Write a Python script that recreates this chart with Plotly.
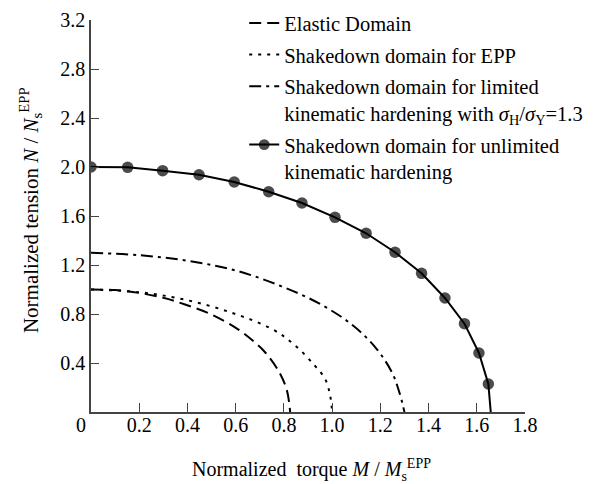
import plotly.graph_objects as go

# Elastic domain (dashed)
elastic_M = [0, 0.1, 0.2, 0.3, 0.39, 0.5, 0.61, 0.68, 0.722, 0.777, 0.812, 0.826]
elastic_N = [1.0, 0.995, 0.972, 0.932, 0.878, 0.796, 0.675, 0.567, 0.488, 0.338, 0.18, 0.0]

# Shakedown EPP (dotted)
epp_M = [0, 0.2, 0.39, 0.584, 0.75, 0.84, 0.922, 0.971, 0.992, 1.0]
epp_N = [1.0, 0.978, 0.917, 0.81, 0.678, 0.555, 0.392, 0.27, 0.133, 0.0]

# Shakedown limited kinematic hardening (dash-dot)
lim_M = [0, 0.2, 0.4, 0.6, 0.784, 0.95, 1.088, 1.185, 1.248, 1.279, 1.30]
lim_N = [1.3, 1.28, 1.235, 1.155, 1.031, 0.882, 0.704, 0.514, 0.324, 0.16, 0.0]

# Shakedown unlimited kinematic hardening (solid with markers)
unl_M = [0, 0.152, 0.297, 0.448, 0.594, 0.737, 0.875, 1.012, 1.141, 1.261, 1.371, 1.468, 1.549, 1.609, 1.648, 1.658]
unl_N = [2.0, 1.997, 1.97, 1.937, 1.878, 1.798, 1.706, 1.589, 1.459, 1.304, 1.132, 0.931, 0.721, 0.482, 0.229, 0.0]
unl_marker = [11.5] * 15 + [0]

x_ticks = [0, 0.2, 0.4, 0.6, 0.8, 1.0, 1.2, 1.4, 1.6, 1.8]
x_ticktext = ["0\u2003", "0.2", "0.4", "0.6", "0.8", "1.0", "1.2", "1.4", "1.6", "1.8"]
y_ticks = [0.4, 0.8, 1.2, 1.6, 2.0, 2.4, 2.8, 3.2]
y_ticktext = ["0.4", "0.8", "1.2", "1.6", "2.0", "2.4", "2.8", "3.2"]

x_title = "Normalized  torque <i>M</i> / <i>M</i><sub>s</sub><sup>EPP</sup>"
y_title = "Normalized tension <i>N</i> / <i>N</i><sub>s</sub><sup>EPP</sup>"

FONT = "Liberation Serif, Times New Roman, serif"

fig = go.Figure()
fig.add_trace(go.Scatter(x=elastic_M, y=elastic_N, mode="lines", name="Elastic Domain", legendgroup="a",
                         line=dict(color="black", width=2, dash="12px,6px"), line_shape="spline"))
fig.add_trace(go.Scatter(x=epp_M, y=epp_N, mode="lines", name="Shakedown domain for EPP", legendgroup="b",
                         line=dict(color="black", width=2, dash="3px,6px"), line_shape="spline"))
fig.add_trace(go.Scatter(x=lim_M, y=lim_N, mode="lines", legendgroup="c",
                         name="Shakedown domain for limited<br>kinematic hardening with <i>σ</i><sub>H</sub>/<i>σ</i><sub>Y</sub>=1.3",
                         line=dict(color="black", width=2, dash="12px,5px,3px,5px"), line_shape="spline"))
fig.add_trace(go.Scatter(x=unl_M, y=unl_N, mode="lines+markers", legendgroup="d",
                         name="Shakedown domain for unlimited<br>kinematic hardening",
                         line=dict(color="black", width=2),
                         marker=dict(color="black", size=unl_marker, line=dict(width=0))))

# page body has an 8px default margin: compensate so the plot area lands where the reference has it
fig.update_layout(
    width=603, height=476,
    margin=dict(l=83, r=86, t=12, b=72, autoexpand=False),
    paper_bgcolor="white", plot_bgcolor="white",
    font=dict(family=FONT, size=20, color="black"),
    legend=dict(x=0.353, y=1.043, xanchor="left", yanchor="top", bgcolor="rgba(0,0,0,0)",
                valign="top", font=dict(family=FONT, size=20.5, color="black"),
                tracegroupgap=2),
    xaxis=dict(range=[0, 1.8], tickvals=x_ticks, ticktext=x_ticktext, ticks="inside", ticklen=9,
               tickcolor="#444", showline=True, linecolor="#444", linewidth=1.5, showgrid=False,
               zeroline=False, automargin=False, ticklabelstandoff=-6),
    yaxis=dict(range=[0, 3.2], tickvals=y_ticks, ticktext=y_ticktext, ticks="inside", ticklen=8,
               tickcolor="#444", showline=True, linecolor="#444", linewidth=1.5, showgrid=False,
               zeroline=False, automargin=False),
    annotations=[
        dict(text=x_title, xref="paper", yref="paper", x=0.509, y=-0.148, xanchor="center",
             yanchor="middle", showarrow=False, font=dict(family=FONT, size=20, color="black")),
        dict(text=y_title, xref="paper", yref="paper", x=-0.1406, y=0.515, xanchor="center",
             yanchor="middle", textangle=-90, showarrow=False, font=dict(family=FONT, size=21, color="black")),
    ],
)
fig.write_html("out.html")
